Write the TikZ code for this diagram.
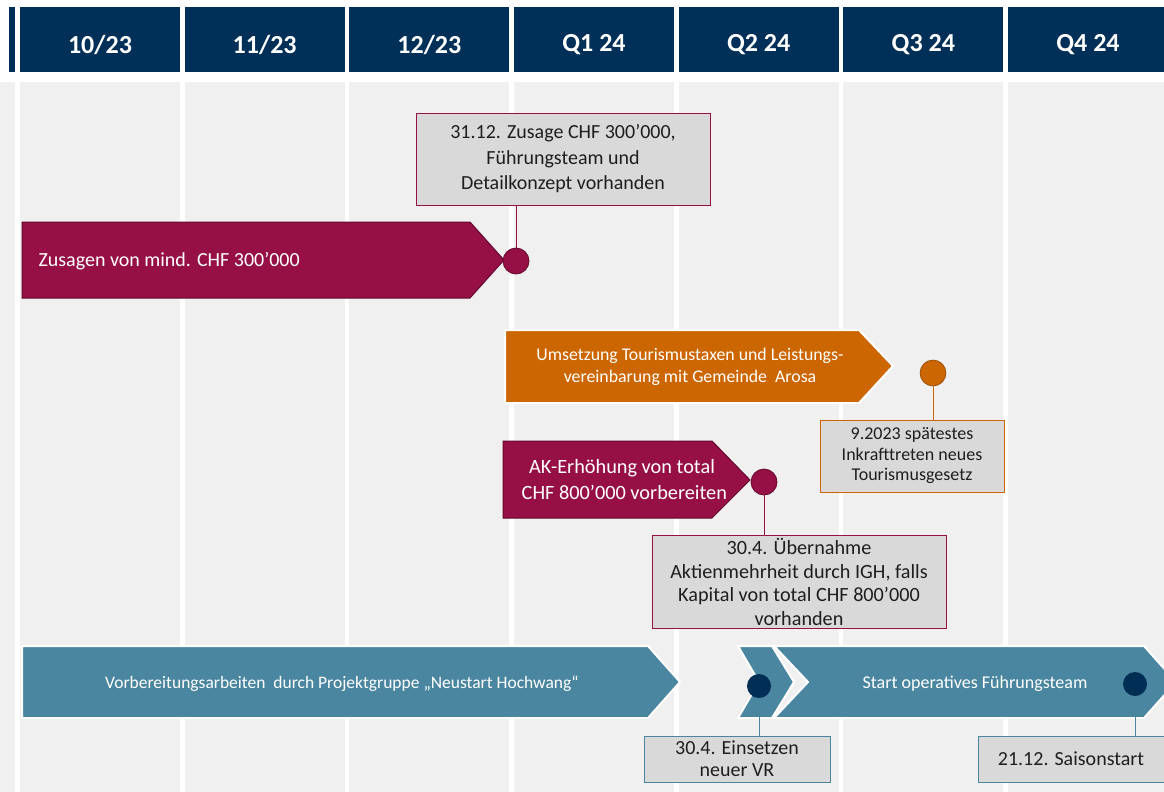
\documentclass[tikz,border=0pt]{standalone}
\usepackage{fontspec}
\setmainfont{Carlito}
\definecolor{navy}{RGB}{0,48,87}
\definecolor{colgray}{RGB}{240,240,240}
\definecolor{boxgray}{RGB}{217,217,217}
\definecolor{magen}{RGB}{150,16,70}
\definecolor{magdark}{RGB}{100,8,45}
\definecolor{orng}{RGB}{204,102,0}
\definecolor{teal}{RGB}{74,134,160}
\definecolor{dotnavy}{RGB}{0,46,85}
\definecolor{txt}{RGB}{30,30,30}
\tikzset{
  hdr/.style={fill=navy},
  colbody/.style={fill=colgray},
  hdrtext/.style={text=white,font=\fontsize{26}{30}\selectfont\bfseries},
  magarrow/.style={fill=magen,draw=magdark,line width=1pt},
  orarrow/.style={fill=orng,draw=white,line width=2pt},
  tlarrow/.style={fill=teal,draw=white,line width=2pt},
  dot/.style={circle,minimum size=#1,inner sep=0pt},
  mbox/.style={draw=magen,fill=boxgray,line width=1pt,text=txt,align=center,inner sep=0pt},
  obox/.style={draw=orng,fill=boxgray,line width=1pt,text=txt,align=center,inner sep=0pt},
  tbox/.style={draw=teal,fill=boxgray,line width=1pt,text=txt,align=center,inner sep=0pt},
  mline/.style={draw=magen,line width=1pt},
  oline/.style={draw=orng,line width=1pt},
  tline/.style={draw=teal,line width=1pt},
}
\begin{document}
\begin{tikzpicture}[x=1pt,y=-1pt]
\useasboundingbox (0,0) rectangle (1164,792);
\clip (0,0) rectangle (1164,792);
\fill[white] (0,0) rectangle (1164,792);
% stub column
\fill[hdr] (9,7) rectangle (15,72);
\fill[colbody] (0,82) rectangle (15,792);
% columns
\foreach \i/\lab in {0/10\slash 23,1/11\slash 23,2/12\slash 23,3/Q1 24,4/Q2 24,5/Q3 24,6/Q4 24}{
  \pgfmathsetmacro{\xl}{20+164.67*\i}
  \fill[hdr] (\xl,7) rectangle ++(160,65);
  \fill[colbody] (\xl,82) rectangle ++(160,710);
  \node[hdrtext] (h\i) at (\xl+80,45) {\lab};
}
% Arrow 1
\draw[magarrow] (22,222) -- (470,222) -- (504,260) -- (470,298) -- (22,298) -- cycle;
\node[anchor=west,text=white,font=\fontsize{20}{26}\selectfont] (t1) at (35,261) {Zusagen von mind. CHF 300’000};
\node[dot=26pt,fill=magen,draw=magdark,line width=0.8pt] (c1) at (516,261) {};
\node[mbox,minimum width=294pt,minimum height=92pt,font=\fontsize{20}{25.5}\selectfont] (b1) at (563,159) {31.12. Zusage CHF 300’000,\\Führungsteam und\\Detailkonzept vorhanden};
\draw[mline] (c1.north) -- (c1.north |- b1.south);
% Orange arrow
\draw[orarrow] (505,330) -- (859,330) -- (893,366) -- (859,403) -- (505,403) -- cycle;
\node[text=white,align=center,font=\fontsize{17.8}{22.5}\selectfont] (t2) at (690,367) {Umsetzung Tourismustaxen und Leistungs-\\vereinbarung mit Gemeinde\ \ Arosa};
\node[dot=26pt,fill=orng,draw=orng!70!black,line width=0.6pt] (c2) at (933,373) {};
\node[obox,minimum width=184pt,minimum height=72pt,font=\fontsize{18}{20.5}\selectfont] (b2) at (912,456) {9.2023 spätestes\\Inkrafttreten neues\\Tourismusgesetz};
\draw[oline] (c2.south) -- (c2.south |- b2.north);
% AK arrow
\draw[magarrow] (503,441) -- (712,441) -- (750,480) -- (712,518) -- (503,518) -- cycle;
\node[text=white,align=center,font=\fontsize{20.3}{26}\selectfont] (t3) at (622,480) {AK-Erhöhung von total\\\ CHF 800’000 vorbereiten};
\node[dot=26pt,fill=magen,draw=magdark,line width=0.8pt] (c3) at (764,482) {};
\node[mbox,minimum width=294pt,minimum height=93pt,font=\fontsize{20.2}{23.5}\selectfont] (b3) at (799,582) {30.4. Übernahme\\Aktienmehrheit durch IGH, falls\\Kapital von total CHF 800’000\\vorhanden};
\draw[mline] (c3.south) -- (c3.south |- b3.north);
% Teal arrows
\draw[tlarrow] (22,646) -- (648,646) -- (680,682) -- (648,718) -- (22,718) -- cycle;
\node[text=white,font=\fontsize{17.5}{18}\selectfont] (t4) at (342,684) {Vorbereitungsarbeiten\ \ durch Projektgruppe „Neustart Hochwang“};
\draw[tlarrow] (738,646) -- (772,646) -- (794,682) -- (772,718) -- (738,718) -- (759,682) -- cycle;
\draw[tlarrow] (774,646) -- (1144,646) -- (1176,682) -- (1144,718) -- (774,718) -- (808,682) -- cycle;
\node[text=white,font=\fontsize{18}{18}\selectfont] (t5) at (975,684) {Start operatives Führungsteam};
\node[dot=24pt,fill=dotnavy] (c4) at (759,686) {};
\node[dot=24pt,fill=dotnavy] (c5) at (1135,684) {};
\node[tbox,minimum width=186pt,minimum height=46pt,font=\fontsize{20}{22}\selectfont] (b4) at (737,759) {30.4. Einsetzen\\neuer VR};
\node[tbox,minimum width=186pt,minimum height=46pt,font=\fontsize{20}{22}\selectfont] (b5) at (1071,759) {21.12. Saisonstart};
\draw[tline] (c4.south) -- (c4.south |- b4.north);
\draw[tline] (c5.south) -- (c5.south |- b5.north);
\end{tikzpicture}
\end{document}
